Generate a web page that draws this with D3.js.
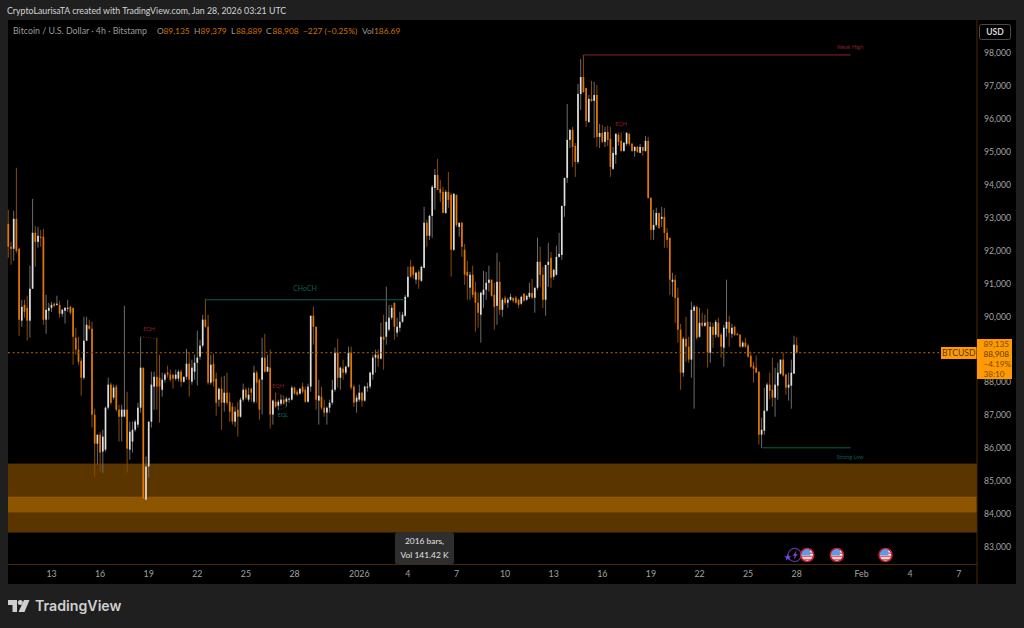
<!DOCTYPE html>
<html>
<head>
<meta charset="utf-8">
<script src="https://d3js.org/d3.v7.min.js"></script>
<style>
  html, body { margin: 0; padding: 0; background: #1f1f1f; overflow: hidden; }
  text { font-family: Lato, "Noto Sans", sans-serif; }
</style>
</head>
<body>
<div id="chart"></div>
<script>
// 4h candles, oldest first
const opens = [92820,92125,92065,92975,92065,89880,90360,90270,89880,90850,92550,92275,92430,92430,89910,90180,90270,90395,90360,90360,90090,90180,90240,90300,
90270,89360,89000,88660,88145,89270,89725,89635,87020,86140,86415,85900,85960,87235,87935,87540,87875,87175,86960,86960,87175,85960,86205,86565,86720,87235,
88450,84440,85445,86810,87875,88175,88145,87780,88085,88300,88240,88240,88115,88115,88330,88025,88175,88570,88025,88330,88600,88785,89120,89910,89695,87995,
88570,88115,87480,87810,87385,87690,87415,87265,86810,87175,86960,87480,87780,87480,87810,87415,88300,88085,88085,88755,88330,88450,87025,87415,87295,87355,
87480,87415,87480,87480,87845,87720,87660,87875,87780,87415,87875,90030,89695,87450,87570,87235,87085,87235,87385,87780,88905,88145,88420,88300,88480,88905,
87875,87415,87480,87690,87450,87845,87875,88240,88755,88845,88725,89390,89390,89605,89970,90425,89515,89665,89845,90030,90605,91520,91520,91125,91365,91090,
91485,92855,92460,93065,93915,94310,93885,93795,93155,93795,93705,92035,93705,92730,92855,92035,91365,90880,91275,90760,90425,90060,90665,90820,91030,91125,
90665,90330,91060,90210,90575,90425,90515,90575,90575,90515,90395,90695,90515,90605,90725,90575,90880,91670,91275,90515,91575,91790,91215,91275,91820,91880,
93370,94220,95375,95675,95190,94705,96770,97285,96950,95920,96620,96560,96740,95465,95585,95315,95615,95405,94495,94920,95525,95345,95040,95255,95555,95255,
95040,95160,94980,95160,95040,95345,93610,92640,92790,93155,92975,93035,92550,92400,91060,91125,90575,89605,88300,89330,89090,88695,90180,90300,89390,89815,
89725,89845,88905,89695,89450,89815,89450,89060,89635,89845,89480,89695,89480,89450,89090,89210,89120,88815,88510,88450,88330,86415,86535,87145,87935,87780,
87540,87905,88270,88695,88240,87845,87905,88270,89135];
const highs = [93250,92275,93220,94525,92095,90515,90515,90640,91550,93580,92760,92730,92640,92670,90665,90425,90455,90425,90640,90485,90240,90300,90515,90330,
90270,89665,89390,88755,90000,90000,89910,89850,87205,86415,86505,86565,87265,88145,87995,87935,87935,87325,87325,90330,87720,86810,86810,86870,87385,89390,
88450,85750,86810,88330,88330,89360,88845,88300,88300,88510,88390,88240,88390,88390,88390,88175,89025,88905,88695,88845,89575,89300,90060,90545,90060,88845,
88875,88300,87845,88175,88205,88300,87690,87385,87265,87415,87540,87965,87845,87845,87845,88510,88360,88115,89360,89480,88845,89000,87480,87690,87480,87630,
87600,87570,87540,87905,87875,87780,87845,87995,87875,87965,90030,90300,89695,88085,87875,87480,87265,87480,88085,89060,89330,88480,88695,88510,89090,89090,
87935,87630,87935,87720,87905,87995,88330,88845,89000,89000,89815,90060,90910,90360,90360,90425,89970,90150,90150,90665,91520,91730,91550,91365,91425,91550,
93340,92945,93095,94005,94490,94795,94160,93945,93855,94400,93765,93765,93705,92855,92885,92215,91700,91365,91550,91060,90730,90760,91395,91365,91550,91125,
91030,91940,91670,90575,90635,90575,90695,90575,90635,90545,90635,90725,90665,91030,91150,90880,92400,92125,91515,91575,92245,91970,91455,92155,92550,93370,
94220,96465,95710,95770,95280,97075,97835,97955,96950,96740,97165,97135,97045,95860,95830,95770,95800,95770,95160,95585,95585,95585,95315,95615,95585,95285,
95190,95190,95250,95160,95495,95465,93640,93250,93310,93155,93340,93310,92700,92400,91335,91275,90880,89785,89390,90000,89390,90455,90360,90330,90270,90120,
90060,90240,89845,89815,89905,89970,89510,89755,91125,90030,89785,89725,89510,89480,89270,89360,89180,88935,88630,88815,88330,86930,87845,87995,88300,88755,
88450,88600,88695,88905,88270,88300,88695,89420,89379];
const lows = [91790,91580,91700,91940,89420,89695,89970,89270,89360,90850,91520,92095,92125,89755,89480,89910,90150,90300,90330,89970,90000,89790,90150,90060,
88540,88845,88540,87600,88085,89270,89605,86630,85140,85505,85290,85260,85900,87175,87325,87480,87115,86205,86205,87085,85260,85655,85870,86505,86630,87085,
84440,84410,85110,86630,87175,87175,86780,87570,87995,88145,88025,87810,88055,88025,87875,87995,88085,87570,87935,88085,87905,88695,89060,89665,87935,87935,
87875,86990,87265,86565,87115,87325,86810,86720,86660,86355,86930,87415,87480,87415,87415,87355,87385,86870,87025,88300,88330,86600,86720,87235,87175,87295,
87325,87265,87385,87450,87630,87600,87630,87660,87385,87385,87720,89150,87175,86720,87175,86960,86720,87085,87325,87720,87845,87780,88085,88240,88450,87780,
87265,87085,87415,87265,87415,87720,87810,88085,88300,88480,88695,88390,89150,89545,89910,89300,89390,89545,89815,90000,90575,91185,91155,91000,90850,91060,
91485,92125,92335,92400,93250,93855,93490,93155,93125,93310,91215,92000,92730,92430,91820,90970,90515,90515,90575,89545,89665,89210,90270,90515,90760,90605,
89605,89755,90060,90000,90360,90270,90485,90425,90395,90270,90360,90455,90485,90545,90545,90120,90820,90910,90270,90030,90910,90880,91125,91245,91790,91730,
93035,94070,95130,94555,94250,94645,96285,96800,95770,95890,96530,95435,95160,95130,95285,95160,95190,94250,94465,94645,95190,95010,95010,95190,95190,95010,
94860,94980,94980,94890,95010,93580,92335,92335,92730,92670,92730,92095,92095,90665,90605,89815,89210,87780,88175,88630,88600,88145,87205,89300,89360,89695,
89695,88450,88600,89055,89360,89360,88755,88480,89390,89090,89360,89420,89420,89060,89060,89060,88755,88450,87995,88300,86115,86020,86415,87115,87480,87265,
86960,87480,88240,88175,87630,87450,87205,88270,88889];
const closes = [92125,92065,92975,92000,89910,90300,90150,89880,90850,92550,92275,92460,92400,89910,90210,90270,90360,90330,90395,90090,90210,90270,90270,90120,
89390,89000,88630,88145,89270,89755,89635,87020,86140,86415,85870,86355,87235,87935,87385,87845,87175,86960,87175,87175,85990,86505,86565,86810,87235,88450,
84470,85445,86810,87935,88175,87875,87875,88085,88240,88240,88085,88115,88240,88330,88025,88175,88570,88085,88450,88600,88755,89120,89910,89695,87995,88540,
88025,87385,87810,87385,87690,87385,87115,86810,87115,86960,87480,87780,87540,87630,87690,88300,87995,87175,88755,88330,88480,87025,87450,87265,87415,87480,
87355,87510,87510,87845,87660,87630,87810,87720,87415,87875,90030,89695,87480,87600,87235,87085,87235,87385,87780,88905,88145,88450,88300,88480,88905,87845,
87385,87540,87690,87450,87875,87875,88300,88755,88845,88725,89390,89300,89845,89970,90270,89695,89695,89845,90060,90605,91215,91215,91275,91335,91125,91520,
92855,92460,93065,93945,94310,93855,93765,93155,93795,93550,92035,93735,92790,92855,92125,91275,91245,91275,90665,90425,90120,90730,90820,91030,91125,90635,
90300,91060,90210,90515,90425,90515,90605,90485,90425,90360,90605,90485,90635,90725,90575,90880,91670,91275,90515,91575,91670,91185,91425,91820,91910,93370,
94220,95375,95675,95160,94705,96770,97285,96830,95950,96620,96560,96740,95465,95585,95315,95615,95375,94555,94980,95555,95315,95040,95285,95585,95255,95040,
95160,95010,95160,95040,95345,93610,92640,92790,93155,92700,93035,92550,92335,91125,91125,90575,89605,88300,89330,89090,88695,90210,90300,89360,89815,89725,
89815,88905,89695,89450,89845,89390,89090,89665,89845,89510,89665,89450,89450,89090,89210,89090,88785,88480,88420,88300,86415,86565,87145,87935,87750,87540,
87935,88300,88695,88210,87845,87935,88300,89150,88908];

// price axis and date axis labels (bar index of each date)
// 89,000 sits behind the last price box in the picture, so it is left out
const priceTicks = [83000,84000,85000,86000,87000,88000,90000,91000,92000,93000,94000,95000,96000,97000,98000];
const dateTickBars = [16,34,52,70,88,106,130,148,166,184,202,220,238,256,274,292,316,334,352];
const dateTickLabels = ["13","16","19","22","25","28","2026","4","7","10","13","16","19","22","25","28","Feb","4","7"];

// drawn zones on the chart, in price
const zoneOuter = [85535, 83440];
const zoneInner = [84530, 84050];

// structure labels: from bar, to bar, price
const structureLines = [
  {label: "CHoCH", from: 73, to: 147, price: 90515, color: "#0b5f52", lx: 305, ly: 291, size: 7},
  {label: "Weak High", from: 213, to: 312, price: 97955, color: "#8a2030", lx: 850, ly: 49, size: 5.5},
  {label: "Strong Low", from: 279, to: 312, price: 86015, color: "#0b5f52", lx: 850, ly: 459, size: 5.5}
];
const equalLines = [
  {label: "EQH", from: 49, to: 55, p1: 89390, p2: 89330, color: "#8a2030", lx: 149, ly: 331},
  {label: "EQH", from: 99, to: 102, p1: 87690, p2: 87570, color: "#8a2030", lx: 278, ly: 388},
  {label: "EQL", from: 100, to: 103, p1: 87150, p2: 87265, color: "#0b6b5c", lx: 283, ly: 417},
  {label: "EQH", from: 225, to: 229, p1: 95585, p2: 95615, color: "#8a2030", lx: 621, ly: 126}
];

// economic event markers (bar index)
const flagBars = [296, 307, 325];
const sparkBar = 292;

const W = 1024, H = 628;
const pane = {left: 8, right: 977, top: 20, bottom: 564.5, axisBottom: 584, outerRight: 1016};

const UP = "#dedede", DOWN = "#df7700", UP_WICK = "#6c6c6c", DOWN_WICK = "#8a4c00";

const svg = d3.select("#chart").append("svg").attr("width", W).attr("height", H)
  .style("display", "block");

const x = d3.scaleLinear().domain([0, 292]).range([8.3, 796.7]);
const y = d3.scaleLinear().domain([83000, 98000]).range([547, 53.5]);

svg.append("rect").attr("width", W).attr("height", H).attr("fill", "#1f1f1f");
svg.append("rect")
  .attr("x", pane.left).attr("y", pane.top)
  .attr("width", pane.outerRight - pane.left).attr("height", pane.axisBottom - pane.top)
  .attr("fill", "#000");

drawZones();
drawCandles();
drawPriceLine();
drawStructure();
drawAxes();
drawEvents();
drawTooltip();
drawLastPrice();
drawHeader();
drawLogo();

function drawZones() {
  const clipW = pane.right - pane.left;
  svg.append("rect").attr("x", pane.left).attr("width", clipW)
    .attr("y", y(zoneOuter[0])).attr("height", y(zoneOuter[1]) - y(zoneOuter[0]))
    .attr("fill", "#5a3500");
  svg.append("rect").attr("x", pane.left).attr("width", clipW)
    .attr("y", y(zoneInner[0])).attr("height", y(zoneInner[1]) - y(zoneInner[0]))
    .attr("fill", "#8e5500");
}

function drawCandles() {
  const bars = opens.map((o, i) => ({i, o, h: highs[i], l: lows[i], c: closes[i]}));
  const g = svg.append("g");
  const candle = g.selectAll("g").data(bars).join("g");

  candle.append("line")
    .attr("x1", d => x(d.i)).attr("x2", d => x(d.i))
    .attr("y1", d => y(d.h)).attr("y2", d => y(d.l))
    .attr("stroke", d => d.c >= d.o ? UP_WICK : DOWN_WICK)
    .attr("stroke-width", 1);

  candle.append("rect")
    .attr("x", d => x(d.i) - 0.85).attr("width", 1.7)
    .attr("y", d => y(Math.max(d.o, d.c)))
    .attr("height", d => Math.max(1, Math.abs(y(d.o) - y(d.c))))
    .attr("fill", d => d.c >= d.o ? UP : DOWN);
}

function drawPriceLine() {
  svg.append("line")
    .attr("x1", pane.left).attr("x2", 941)
    .attr("y1", y(closes[closes.length - 1])).attr("y2", y(closes[closes.length - 1]))
    .attr("stroke", "#8f5200").attr("stroke-width", 1.2)
    .attr("stroke-dasharray", "2,2.6");
}

function drawStructure() {
  structureLines.forEach(s => {
    svg.append("line")
      .attr("x1", x(s.from)).attr("x2", x(s.to))
      .attr("y1", y(s.price)).attr("y2", y(s.price))
      .attr("stroke", s.color).attr("stroke-width", 1);
    svg.append("text").attr("x", s.lx).attr("y", s.ly)
      .attr("text-anchor", "middle").attr("font-size", s.size)
      .attr("fill", s.color).text(s.label);
  });
  equalLines.forEach(s => {
    svg.append("line")
      .attr("x1", x(s.from)).attr("x2", x(s.to))
      .attr("y1", y(s.p1)).attr("y2", y(s.p2))
      .attr("stroke", s.color).attr("stroke-width", 0.8)
      .attr("stroke-dasharray", "1,1.5");
    svg.append("text").attr("x", s.lx).attr("y", s.ly)
      .attr("text-anchor", "middle").attr("font-size", 5.5)
      .attr("fill", s.color).text(s.label);
  });
}

function drawAxes() {
  // axis frame
  svg.append("line").attr("x1", pane.left).attr("x2", pane.right)
    .attr("y1", pane.bottom).attr("y2", pane.bottom)
    .attr("stroke", "#4a2b00");
  svg.append("line").attr("x1", pane.right).attr("x2", pane.right)
    .attr("y1", pane.top).attr("y2", pane.axisBottom)
    .attr("stroke", "#4a2b00");

  const yAxis = d3.axisRight(y).tickValues(priceTicks).tickSize(0).tickPadding(7)
    .tickFormat(d3.format(","));
  const yG = svg.append("g").attr("transform", `translate(${pane.right},0)`).call(yAxis);
  yG.select(".domain").remove();
  yG.selectAll("text").attr("fill", "#a3a3a3").attr("font-size", 8.6)
    .attr("dy", "0.28em")
    .style("font-family", "Lato, sans-serif");

  const labelByBar = new Map(dateTickBars.map((b, k) => [b, dateTickLabels[k]]));
  const xAxis = d3.axisBottom(x).tickValues(dateTickBars).tickSize(0).tickPadding(6)
    .tickFormat(d => labelByBar.get(d));
  const xG = svg.append("g").attr("transform", `translate(-0.5,${pane.bottom})`).call(xAxis);
  xG.select(".domain").remove();
  xG.selectAll("text").attr("fill", "#a3a3a3").attr("font-size", 8.8)
    .style("font-family", "Lato, sans-serif");

  // USD button
  svg.append("rect").attr("x", 979.5).attr("y", 24.5).attr("width", 31).attr("height", 15).attr("rx", 2)
    .attr("fill", "#000").attr("stroke", "#4a4a4a");
  svg.append("text").attr("x", 995).attr("y", 35).attr("text-anchor", "middle")
    .attr("fill", "#d6d6d6").attr("font-size", 8.5).attr("font-weight", 700).text("USD");
}

function drawEvents() {
  const cy = 555;

  // purple ring with bolt and sparkle sits under the first flag
  const sx = x(sparkBar) - 2;
  svg.append("circle").attr("cx", sx).attr("cy", cy).attr("r", 6.6)
    .attr("fill", "none").attr("stroke", "#5f3296").attr("stroke-width", 1.2);
  svg.append("path")
    .attr("d", `M${sx + 2},${cy - 5} L${sx - 2},${cy + 1} L${sx},${cy + 1} L${sx - 1},${cy + 5} L${sx + 3},${cy - 1} L${sx + 1},${cy - 1} Z`)
    .attr("fill", "#7a3fc0");
  svg.append("path")
    .attr("d", d3.symbol().type(d3.symbolStar).size(16)())
    .attr("transform", `translate(${sx - 7},${cy + 2.5})`)
    .attr("fill", "#6d4be0");

  const defs = svg.append("defs");
  flagBars.forEach((b, k) => {
    const cx = x(b) - 0.3;
    defs.append("clipPath").attr("id", "flag" + k)
      .append("circle").attr("cx", cx).attr("cy", cy).attr("r", 6);
    const f = svg.append("g");
    f.append("circle").attr("cx", cx).attr("cy", cy).attr("r", 6).attr("fill", "#f0f0f4");
    const inner = f.append("g").attr("clip-path", `url(#flag${k})`);
    // red stripes across, blue canton top left
    [-2.6, 0.6, 3.8].forEach(dy => inner.append("rect").attr("x", cx - 7).attr("y", cy + dy)
      .attr("width", 14).attr("height", 1.6).attr("fill", "#e8636b"));
    inner.append("rect").attr("x", cx - 7).attr("y", cy - 7).attr("width", 10).attr("height", 7.4).attr("fill", "#5b9be8");
    f.append("circle").attr("cx", cx).attr("cy", cy).attr("r", 6.6)
      .attr("fill", "none").attr("stroke", "#c8202f").attr("stroke-width", 1.4);
  });
}

function drawTooltip() {
  svg.append("rect").attr("x", 395).attr("y", 532).attr("width", 59).attr("height", 32.5).attr("rx", 3)
    .attr("fill", "#2e2e2e");
  svg.append("text").attr("x", 424.5).attr("y", 544).attr("text-anchor", "middle")
    .attr("fill", "#e2e2e2").attr("font-size", 8.4).text("2016 bars,");
  svg.append("text").attr("x", 424.5).attr("y", 558).attr("text-anchor", "middle")
    .attr("fill", "#e2e2e2").attr("font-size", 8.4).text("Vol 141.42 K");
}

function drawLastPrice() {
  const orange = "#ff9a05", ink = "#7a4a00";
  svg.append("rect").attr("x", 977).attr("y", 339).attr("width", 35).attr("height", 40).attr("fill", orange);
  svg.append("rect").attr("x", 941).attr("y", 347).attr("width", 35.5).attr("height", 12).attr("fill", orange);
  svg.append("text").attr("x", 958.7).attr("y", 356.3).attr("text-anchor", "middle")
    .attr("fill", "#5c3800").attr("font-size", 8.6).text("BTCUSD");
  const rows = ["89,135", "88,908", "−4.19%", "38:10"];
  const rowY = [346.5, 356.5, 366.5, 376.5];
  rows.forEach((t, k) => {
    svg.append("text").attr("x", 983.5).attr("y", rowY[k])
      .attr("fill", k === 1 ? "#5c3800" : ink).attr("font-size", 8.2).text(t);
  });
}

function drawHeader() {
  svg.append("text").attr("x", 7).attr("y", 14)
    .attr("fill", "#d4d4d4").attr("font-size", 8.8)
    .text("CryptoLaurisaTA created with TradingView.com, Jan 28, 2026 03:21 UTC");

  svg.append("text").attr("x", 13).attr("y", 34).attr("font-size", 8.8).attr("fill", "#9a9a9a")
    .text("Bitcoin / U.S. Dollar · 4h · Bitstamp");

  const grey = "#9a9a9a", val = "#d27200";
  const parts = [
    [157, "O", grey], [163.5, "89,135", val], [194, "H", grey], [200.5, "89,379", val],
    [231, "L", grey], [236, "88,889", val], [266, "C", grey], [272.5, "88,908", val],
    [303, "−227 (−0.25%)", val], [362, "Vol", grey], [374, "186.69", val]
  ];
  parts.forEach(p => svg.append("text").attr("x", p[0]).attr("y", 34)
    .attr("font-size", 8.4).attr("fill", p[2]).text(p[1]));
}

function drawLogo() {
  const g = svg.append("g").attr("transform", "translate(8,600)").attr("fill", "#cfcfcf");
  g.append("path").attr("d", "M0,0 H9 V12 H4.5 V5 H0 Z");
  g.append("circle").attr("cx", 12.3).attr("cy", 2.6).attr("r", 2.5);
  g.append("path").attr("d", "M16,0 H21.5 L16.5,12 H10.5 Z");
  svg.append("text").attr("x", 35).attr("y", 611)
    .attr("fill", "#cfcfcf").attr("font-size", 14.2).attr("font-weight", 600)
    .style("font-family", "Inter, sans-serif").text("TradingView");
}
</script>
</body>
</html>
